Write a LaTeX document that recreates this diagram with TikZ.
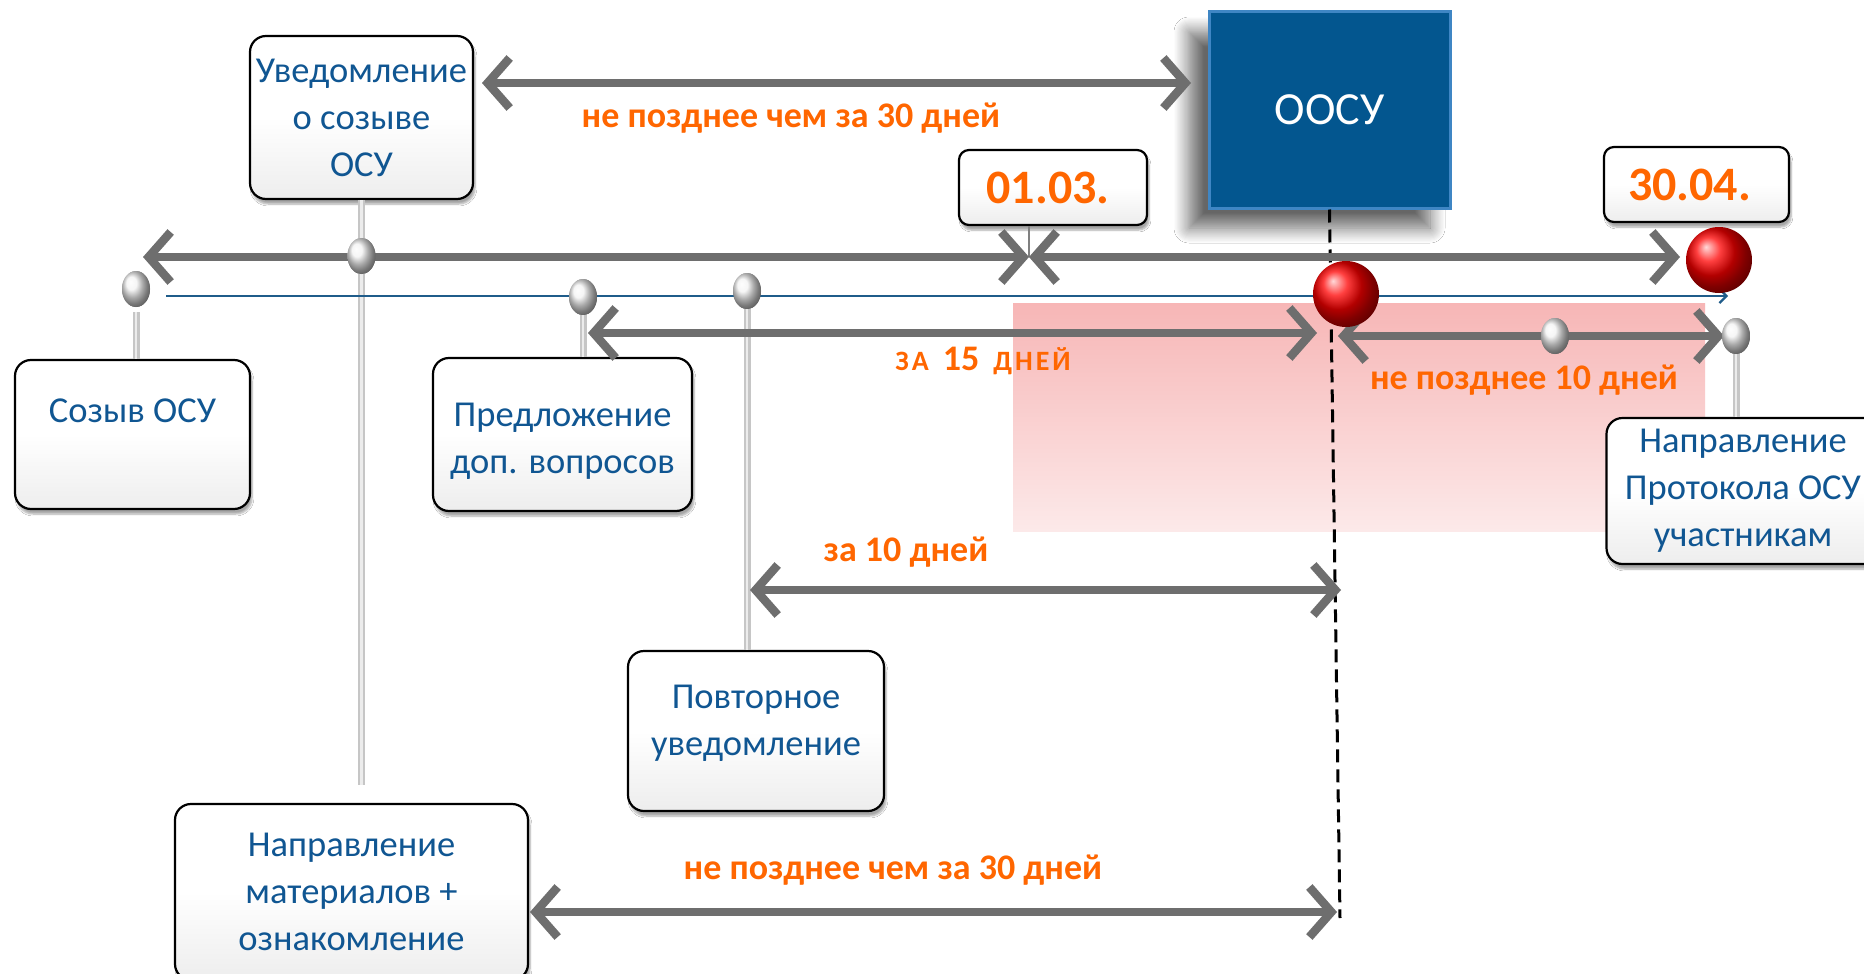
\documentclass[tikz,border=0pt]{standalone}
\usepackage{fontspec}
\setmainfont{Carlito}
\usetikzlibrary{arrows.meta,shadows.blur,shapes.geometric}
\definecolor{txtblue}{HTML}{105692}
\definecolor{boxblue}{HTML}{03568F}
\definecolor{boxedge}{HTML}{3F86C4}
\definecolor{orng}{HTML}{FF6600}
\definecolor{agray}{HTML}{6E6E6E}
\definecolor{thinblue}{HTML}{1F5C8A}
\definecolor{pinktop}{HTML}{F7B6B6}
\definecolor{pinkbot}{HTML}{FCE9E9}
\begin{document}
\begin{tikzpicture}[x=1pt,y=-1pt,
  wbox/.style={draw=black, line width=2.2pt, rounded corners=16pt,
    top color=white, bottom color=gray!14, middle color=white,
    blur shadow={shadow xshift=2pt, shadow yshift=-5pt, shadow opacity=35, shadow blur steps=6},
    text=txtblue, font=\fontsize{36.5}{47}\selectfont, align=center, inner sep=0pt},
  wtxt/.style={text=txtblue, font=\fontsize{36.5}{47}\selectfont, align=center, inner sep=0pt},
  dbox/.style={wbox, rounded corners=10pt, text=orng, font=\fontsize{48}{50}\selectfont\bfseries},
  oosubox/.style={draw=boxedge, line width=3pt, fill=boxblue, text=white,
    font=\fontsize{46}{50}\selectfont,
    blur shadow={shadow xshift=-20pt, shadow yshift=-20pt, shadow opacity=60, shadow blur steps=14, shadow blur radius=15pt}},
  garrow/.style={draw=agray, line width=8.5pt, {Straight Barb[length=22pt,width=50pt]}-{Straight Barb[length=22pt,width=50pt]}},
  bar/.style={draw=gray!45, line width=7pt},
  barhl/.style={draw=white!85!gray, line width=2.5pt},
  sph/.style={ellipse, inner sep=0pt, minimum width=28pt, minimum height=36pt, shading=ball, ball color=gray!10},
  redball/.style={circle, inner sep=0pt, minimum size=66pt, shading=ball, ball color=red},
  lbl/.style={text=orng, font=\fontsize{36}{40}\selectfont\bfseries, inner sep=0pt}
]
\useasboundingbox (0,0) rectangle (1864,974);
\fill[white] (0,0) rectangle (1864,974);

% pink zone
\shade[top color=pinktop, bottom color=pinkbot] (1013,303) rectangle (1705,531);

% boxes
\node[wbox, minimum width=223pt, minimum height=163pt] (uv) at (361.5,117.5) {Уведомление\\о созыве\\ОСУ};
\node[oosubox, minimum width=241pt, minimum height=196pt] (oosu) at (1329.5,110) {ООСУ};
\node[dbox, minimum width=188pt, minimum height=75pt] (d1) at (1053,187.5) {01.03.\hspace*{10pt}};
\node[dbox, minimum width=185pt, minimum height=75pt] (d2) at (1696.5,184.5) {30.04.\hspace*{14pt}};
\node[wbox, minimum width=235pt, minimum height=149pt] (sozyv) at (132.5,434.5) {Созыв ОСУ\\\phantom{Х}};
\node[wbox, minimum width=259pt, minimum height=153pt] (predl) at (562.5,434.5) {};
\node[wtxt] (predlT) at (562.5,441) {Предложение\\доп. вопросов};
\node[wbox, minimum width=256pt, minimum height=160pt] (povt) at (756,731) {Повторное\\уведомление\\[-25pt]\mbox{}};
\node[wbox, minimum width=273pt, minimum height=146pt] (prot) at (1743,491) {Направление\\Протокола ОСУ\\участникам};
\node[wbox, minimum width=353pt, minimum height=176pt] (napr) at (351.5,892) {Направление\\материалов +\\ознакомление};

% coordinates
\coordinate (tA) at (482,83);
\coordinate (tB) at (1191,83);
\coordinate (mL) at (143,257);
\coordinate (mX) at (1029,257);
\coordinate (mR) at (1680,257);
\coordinate (bL) at (166,296);
\coordinate (bR) at (1728,296);
\coordinate (fL) at (588,333);
\coordinate (fR) at (1317,333);
\coordinate (gL) at (1338,336);
\coordinate (gR) at (1724,336);
\coordinate (hL) at (750,590);
\coordinate (hR) at (1341,590);
\coordinate (kL) at (530,912);
\coordinate (kR) at (1337,912);
\coordinate (uvEnd) at (361.5,785);
\coordinate (dEnd) at (1340,918);

% spheres (positions)
\node[sph] (s1) at (136,289) {};
\node[sph] (s2) at (361.5,256) {};
\node[sph] (s3) at (583,297) {};
\node[sph] (s4) at (747,291) {};
\node[sph] (s5) at (1555,336) {};
\node[sph] (s6) at (1736,336) {};

% vertical bars
\draw[bar] ([yshift=-5pt]s1.south) -- (sozyv.north -| s1);
\draw[barhl] ([yshift=-5pt]s1.south) -- (sozyv.north -| s1);
\draw[bar] (uv.south) -- (uvEnd);
\draw[barhl] (uv.south) -- (uvEnd);
\draw[bar] (s3) -- (predl.north -| s3);
\draw[barhl] (s3) -- (predl.north -| s3);
\draw[bar] (s4) -- (povt.north -| s4);
\draw[barhl] (s4) -- (povt.north -| s4);
\draw[bar] (s6) -- (prot.north -| s6);
\draw[barhl] (s6) -- (prot.north -| s6);

% thin timeline
\draw[thinblue, line width=2.2pt, -{Straight Barb[length=7pt,width=14pt]}] (bL) -- (bR);

% dashed line
\draw[black, line width=3pt, dash pattern=on 13pt off 7pt] (oosu.south) -- (dEnd);

% tick from 01.03.
\draw[gray, line width=1.5pt] (d1.south -| mX) -- (mX);

% grey arrows
\draw[garrow] (tA) -- (tB);
\draw[garrow] (mL) -- (mX);
\draw[garrow] (mX) -- (mR);
\draw[garrow] (fL) -- (fR);
\draw[garrow] (gL) -- (gR);
\draw[garrow] (hL) -- (hR);
\draw[garrow] (kL) -- (kR);

% redraw spheres on top
\node[sph] at (s1) {};
\node[sph] at (s2) {};
\node[sph] at (s3) {};
\node[sph] at (s4) {};
\node[sph] at (s5) {};
\node[sph] at (s6) {};

% red balls
\node[redball] (rb1) at (1719,260) {};
\node[redball] (rb2) at (1346,294) {};

% labels
\node[lbl] (l1) at (791,118) {не позднее чем за 30 дней};
\node[lbl] (l2) at (983,361) {{\fontsize{28}{30}\selectfont З\kern3ptА}\kern14pt 15\kern14pt{\fontsize{28}{30}\selectfont Д\kern3ptН\kern3ptЕ\kern3ptЙ}};
\node[lbl] (l3) at (1524,380) {не позднее 10 дней};
\node[lbl] (l4) at (906,552) {за 10 дней};
\node[lbl] (l5) at (893,870) {не позднее чем за 30 дней};
\end{tikzpicture}
\end{document}
